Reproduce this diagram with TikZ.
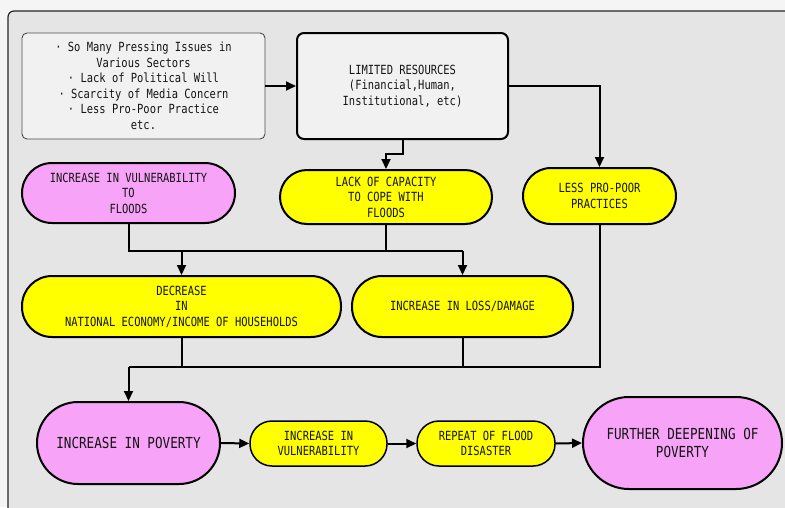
\documentclass[tikz,border=0pt]{standalone}
\usepackage{fontspec}
\usetikzlibrary{arrows.meta}
\newfontfamily\gfont[FakeStretch=0.83]{DejaVu Sans Mono}
\definecolor{panelgray}{HTML}{E5E5E5}
\definecolor{outerbg}{HTML}{F5F5F5}
\definecolor{boxgray}{HTML}{F1F1F1}
\definecolor{termyellow}{HTML}{FFFF00}
\definecolor{termpink}{HTML}{F7A3F7}
\definecolor{inkcol}{HTML}{141414}
\begin{document}
\begin{tikzpicture}[x=1pt,y=-1pt,
  txt/.style={font=\gfont\fontsize{12.6}{15.5}\selectfont, text=inkcol, align=center, inner sep=0pt},
  bigtxt/.style={font=\gfont\fontsize{15.2}{18}\selectfont, text=inkcol, align=center, inner sep=0pt},
  notebox/.style={txt, draw=black!70, line width=0.9pt, fill=boxgray, rounded corners=5pt},
  resbox/.style={txt, draw=black, line width=2pt, fill=boxgray, rounded corners=7pt},
  term/.style args={#1/#2/#3}{draw=black, line width=2pt, rounded corners=#3pt,
     minimum width=#1pt, minimum height=#2pt},
  yterm/.style={txt, fill=termyellow, term=#1},
  pterm/.style={fill=termpink, term=#1},
  link/.style={draw=black, line width=2pt},
  arr/.style={link, -{Triangle[length=10pt,width=9pt]}}
]
% page and grey panel
\fill[outerbg] (0,0) rectangle (785,507);
\useasboundingbox (0,0) rectangle (785,507);
\draw[fill=panelgray, draw=black!85, line width=1.2pt, rounded corners=6pt] (8,11) rectangle (800,520);

% top boxes
\node[notebox, minimum width=243pt, minimum height=106pt] (issues) at (143.5,86)
  {· So Many Pressing Issues in\\ Various Sectors\\ · Lack of Political Will\\ · Scarcity of Media Concern\\ · Less Pro-Poor Practice\\ etc.};
\node[resbox, minimum width=211pt, minimum height=106pt] (limres) at (402.5,86)
  {LIMITED RESOURCES\\ (Financial,Human,\\ Institutional, etc)};

% second row
\node[txt, pterm=213/60/30] (vuln) at (128.5,193)
  {INCREASE IN VULNERABILITY\\ TO\\ FLOODS};
\node[yterm=212/54/27] (lack) at (386,197)
  {LACK OF CAPACITY\\ TO COPE WITH\\ FLOODS};
\node[yterm=153/56/28] (lesspp) at (599.5,196)
  {LESS PRO-POOR\\ PRACTICES};

% third row
\node[yterm=319/61/30] (decr) at (181.5,306.5)
  {DECREASE\\ IN\\ NATIONAL ECONOMY/INCOME OF HOUSEHOLDS};
\node[yterm=221/61/30] (loss) at (462.5,306.5)
  {INCREASE IN LOSS/DAMAGE};

% bottom chain
\node[bigtxt, pterm=183/82/41] (pov) at (128.5,443) {INCREASE IN POVERTY};
\node[yterm=137/45/22, line width=1.5pt] (incv) at (318.5,443.5) {INCREASE IN\\ VULNERABILITY};
\node[yterm=138/45/22, line width=1.5pt] (rep) at (486,443.5) {REPEAT OF FLOOD\\ DISASTER};
\node[bigtxt, pterm=199/92/46] (deep) at (682.5,443) {FURTHER DEEPENING OF\\ POVERTY};

% bus lines
\coordinate (busA) at (0,154);
\coordinate (busB) at (0,251);
\coordinate (busC) at (0,367);

% connectors
\draw[arr] (issues.east) -- (limres.west);
\draw[arr] (limres.south -| 403,0) -- (403,154) -- (lack.north |- busA) -- (lack.north);
\draw[arr] (limres.east) -- (lesspp.north |- limres.east) -- (lesspp.north);

\draw[link] (vuln.south) -- (vuln.south |- busB) -- (loss.north |- busB);
\draw[link] (lack.south) -- (lack.south |- busB);
\draw[arr] (decr.north |- busB) -- (decr.north);
\draw[arr] (loss.north |- busB) -- (loss.north);

\draw[link] (decr.south) -- (decr.south |- busC);
\draw[link] (loss.south) -- (loss.south |- busC);
\draw[link] (lesspp.south) -- (lesspp.south |- busC) -- (pov.north |- busC);
\draw[arr] (pov.north |- busC) -- (pov.north);

\draw[arr] (pov.east) -- (incv.west);
\draw[arr] (incv.east) -- (rep.west);
\draw[arr] (rep.east) -- (deep.west);
\end{tikzpicture}
\end{document}
